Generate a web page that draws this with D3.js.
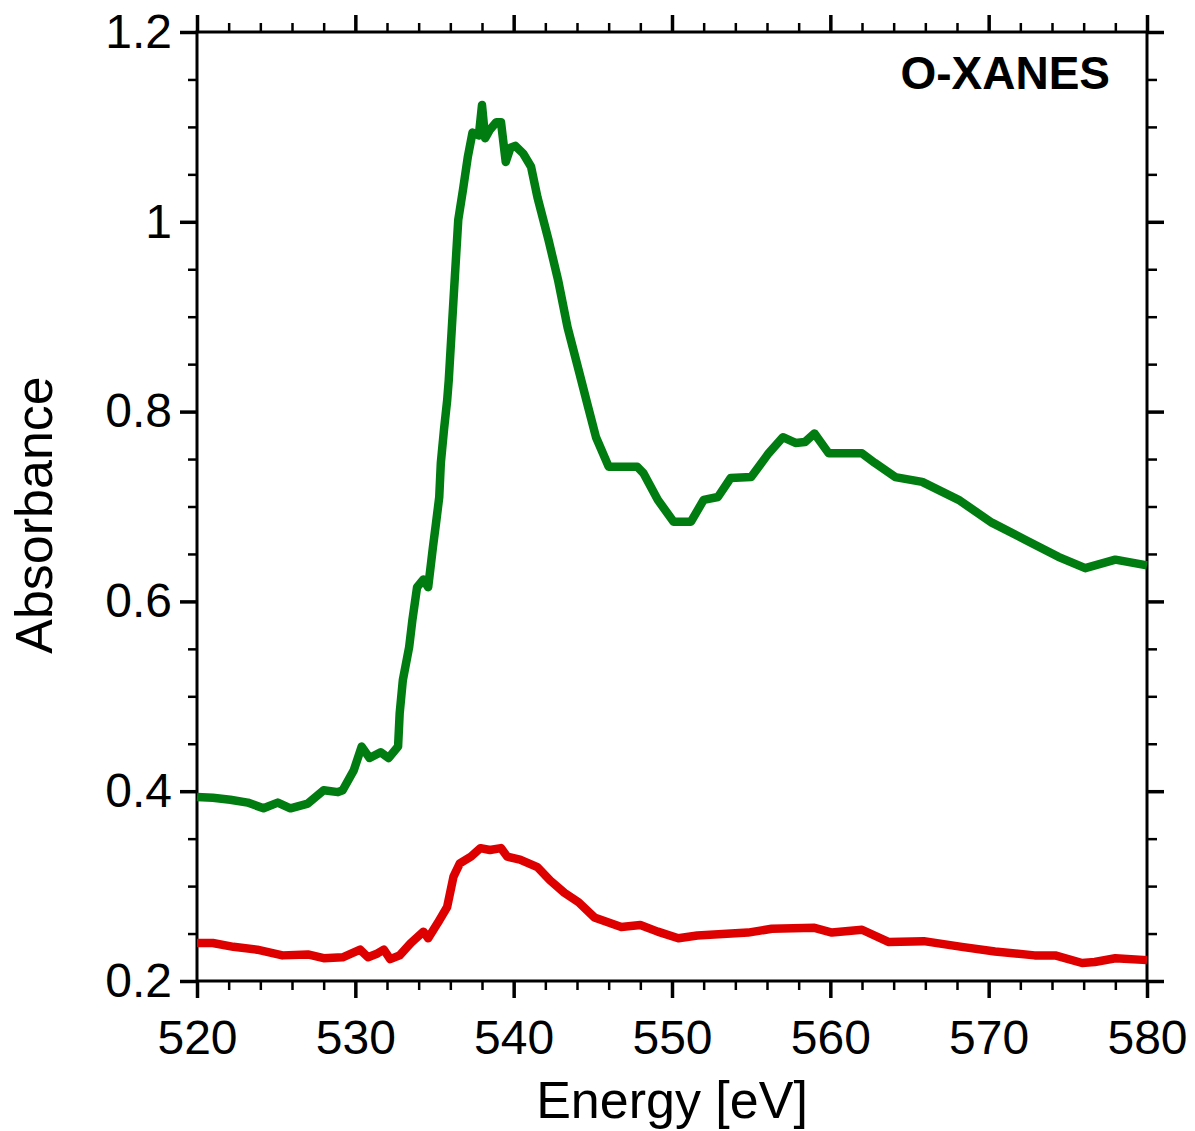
<!DOCTYPE html>
<meta charset="utf-8">
<html>
<head>
<title>O-XANES</title>
<style>
  body { margin: 0; background: #fff; }
  text { font-family: "Liberation Sans", Arial, sans-serif; }
</style>
</head>
<body>
<div id="viz"></div>
<script src="https://cdnjs.cloudflare.com/ajax/libs/d3/7.8.5/d3.min.js"></script>
<script>
// energy [eV] and absorbance
var greenE = [520.0, 521.0, 522.1, 523.2, 524.2, 525.1, 525.9, 527.0, 528.0, 528.9, 529.2, 529.9, 530.4, 530.9, 531.6, 532.1, 532.7, 532.8, 533.0, 533.4, 533.6, 533.9, 534.3, 534.6, 534.9, 535.1, 535.3, 535.4, 535.6, 535.8, 535.9, 536.2, 536.5, 536.8, 537.1, 537.4, 537.8, 538.0, 538.2, 538.5, 538.9, 539.2, 539.5, 539.8, 540.1, 540.6, 541.1, 541.5, 542.2, 542.8, 543.4, 544.1, 544.7, 545.2, 546.0, 547.8, 548.2, 549.1, 550.1, 551.2, 552.0, 552.9, 553.7, 555.0, 556.1, 557.0, 557.8, 558.4, 559.0, 559.9, 562.0, 562.8, 564.1, 565.8, 568.1, 570.2, 572.3, 574.4, 576.1, 578.0, 580.0];
var greenA = [0.394, 0.393, 0.391, 0.388, 0.382, 0.388, 0.382, 0.387, 0.401, 0.399, 0.401, 0.422, 0.447, 0.435, 0.441, 0.435, 0.447, 0.482, 0.517, 0.552, 0.580, 0.615, 0.623, 0.615, 0.657, 0.683, 0.710, 0.746, 0.781, 0.812, 0.833, 0.918, 1.002, 1.034, 1.068, 1.094, 1.091, 1.123, 1.088, 1.097, 1.105, 1.105, 1.063, 1.078, 1.080, 1.072, 1.058, 1.026, 0.981, 0.939, 0.889, 0.844, 0.805, 0.773, 0.742, 0.742, 0.735, 0.707, 0.684, 0.684, 0.707, 0.710, 0.730, 0.731, 0.756, 0.773, 0.767, 0.768, 0.777, 0.756, 0.756, 0.746, 0.731, 0.726, 0.707, 0.683, 0.665, 0.647, 0.635, 0.644, 0.638];

var redE = [520.0, 521.0, 522.3, 523.8, 525.4, 527.0, 528.0, 529.2, 530.3, 530.8, 531.4, 531.8, 532.2, 532.8, 533.5, 534.3, 534.6, 535.2, 535.8, 536.2, 536.6, 537.3, 537.9, 538.5, 539.2, 539.6, 540.4, 541.5, 542.3, 543.2, 544.1, 545.1, 546.8, 548.0, 549.1, 550.4, 551.6, 554.8, 556.3, 559.0, 560.1, 562.0, 563.7, 565.9, 568.3, 570.4, 572.9, 574.2, 575.9, 576.7, 578.0, 580.0];
var redA = [0.240, 0.240, 0.236, 0.233, 0.227, 0.228, 0.224, 0.225, 0.233, 0.225, 0.229, 0.233, 0.223, 0.227, 0.240, 0.252, 0.245, 0.261, 0.278, 0.310, 0.324, 0.331, 0.340, 0.338, 0.340, 0.331, 0.328, 0.320, 0.306, 0.293, 0.283, 0.267, 0.257, 0.259, 0.252, 0.245, 0.248, 0.251, 0.255, 0.256, 0.251, 0.254, 0.241, 0.242, 0.236, 0.231, 0.227, 0.227, 0.219, 0.220, 0.224, 0.222];

var xTicks = [520, 530, 540, 550, 560, 570, 580];
var yTicks = [0.2, 0.4, 0.6, 0.8, 1.0, 1.2];
var yTickLabels = ["0.2", "0.4", "0.6", "0.8", "1", "1.2"];

var width = 1195, height = 1131;
var margin = {left: 197, top: 32, right: 48, bottom: 150};
var w = width - margin.left - margin.right;
var h = height - margin.top - margin.bottom;

var svg = d3.select("#viz").append("svg")
    .attr("width", width)
    .attr("height", height);

var g = svg.append("g").attr("transform", "translate(" + margin.left + "," + margin.top + ")");

var x = d3.scaleLinear().domain([520, 580]).range([0, w]);
var y = d3.scaleLinear().domain([0.2, 1.2]).range([h, 0]);

var xMinor = d3.range(520, 581, 2).filter(function (d) { return d % 10 != 0; });
var yMinor = d3.range(0, 21).map(function (i) { return +(0.2 + i * 0.05).toFixed(2); })
    .filter(function (d) { return Math.round(d * 100) % 20 != 0; });

function styleAxis(sel, sw) {
    sel.select(".domain").remove();
    sel.selectAll("line").attr("stroke", "#000").attr("stroke-width", sw);
    sel.selectAll("text").attr("font-size", 48).attr("fill", "#000");
}

// minor ticks, four sides
g.append("g").attr("transform", "translate(0," + h + ")")
    .call(d3.axisBottom(x).tickValues(xMinor).tickSize(9).tickFormat(""))
    .call(styleAxis, 2.5);
g.append("g")
    .call(d3.axisTop(x).tickValues(xMinor).tickSize(9).tickFormat(""))
    .call(styleAxis, 2.5);
g.append("g")
    .call(d3.axisLeft(y).tickValues(yMinor).tickSize(9).tickFormat(""))
    .call(styleAxis, 2.5);
g.append("g").attr("transform", "translate(" + w + ",0)")
    .call(d3.axisRight(y).tickValues(yMinor).tickSize(10).tickFormat(""))
    .call(styleAxis, 2.5);

// major ticks
g.append("g").attr("transform", "translate(0," + h + ")")
    .call(d3.axisBottom(x).tickValues(xTicks).tickSize(17).tickPadding(22).tickFormat(d3.format("d")))
    .call(styleAxis, 3.5);
g.append("g")
    .call(d3.axisTop(x).tickValues(xTicks).tickSize(17).tickFormat(""))
    .call(styleAxis, 3.5);
g.append("g")
    .call(d3.axisLeft(y).tickValues(yTicks).tickSize(17).tickPadding(8)
        .tickFormat(function (d, i) { return yTickLabels[i]; }))
    .call(styleAxis, 3.5);
g.append("g").attr("transform", "translate(" + w + ",0)")
    .call(d3.axisRight(y).tickValues(yTicks).tickSize(17).tickFormat(""))
    .call(styleAxis, 3.5);

// frame
g.append("rect")
    .attr("width", w).attr("height", h)
    .attr("fill", "none").attr("stroke", "#000").attr("stroke-width", 3);

var line = d3.line()
    .x(function (d) { return x(d[0]); })
    .y(function (d) { return y(d[1]); });

g.append("path")
    .datum(d3.zip(greenE, greenA))
    .attr("d", line)
    .attr("fill", "none")
    .attr("stroke", "#007c10")
    .attr("stroke-width", 8.5)
    .attr("stroke-linejoin", "round");

g.append("path")
    .datum(d3.zip(redE, redA))
    .attr("d", line)
    .attr("fill", "none")
    .attr("stroke", "#de0000")
    .attr("stroke-width", 8.5)
    .attr("stroke-linejoin", "round");

svg.append("text")
    .attr("x", 1110).attr("y", 89)
    .attr("text-anchor", "end")
    .attr("font-size", 46).attr("font-weight", "bold")
    .text("O-XANES");

svg.append("text")
    .attr("x", margin.left + w / 2).attr("y", 1118)
    .attr("text-anchor", "middle")
    .attr("font-size", 52)
    .text("Energy [eV]");

svg.append("text")
    .attr("transform", "translate(52,515) rotate(-90)")
    .attr("text-anchor", "middle")
    .attr("font-size", 52)
    .text("Absorbance");
</script>
</body>
</html>
